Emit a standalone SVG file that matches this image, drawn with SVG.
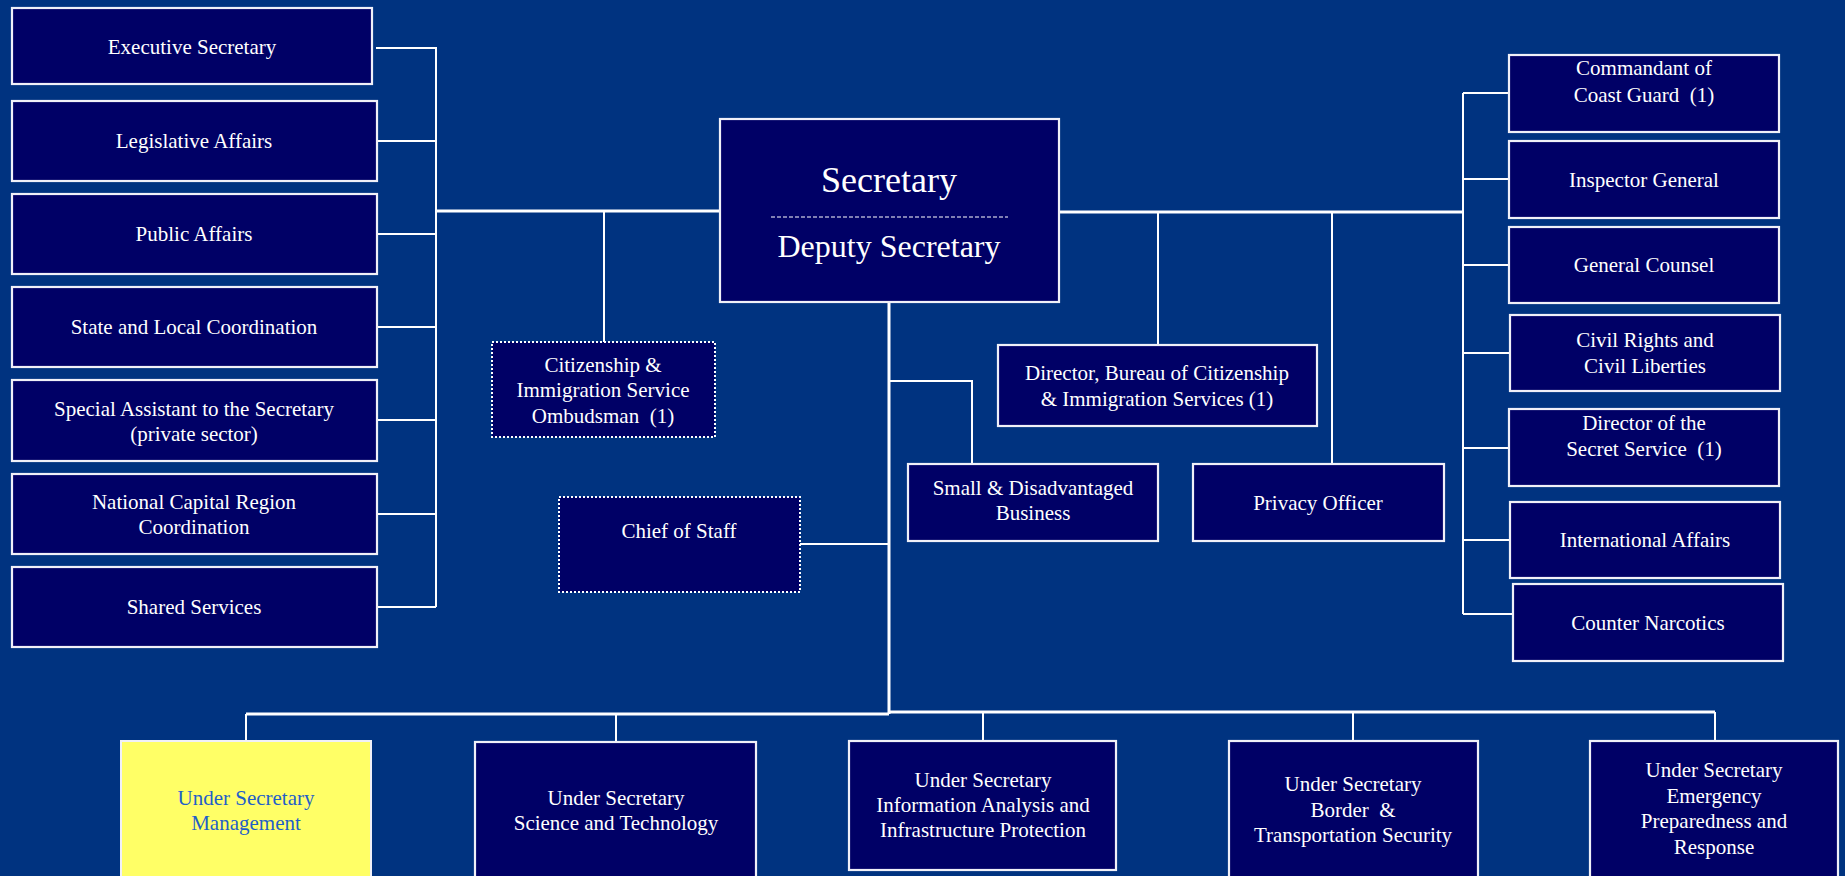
<svg xmlns="http://www.w3.org/2000/svg" width="1845" height="876" viewBox="0 0 1845 876" xml:space="preserve">
<style>
.bg{fill:#003380}
.box{fill:#000066;stroke:#f0f0f8;stroke-width:2.2}
.dot{fill:#000066;stroke:#ffffff;stroke-width:2;stroke-dasharray:2 2}
.hl{fill:#ffff66;stroke:#f0f0f8;stroke-width:2}
text{font-family:"Liberation Serif","Times New Roman",serif;font-size:21px;fill:#ffffff;text-anchor:middle;white-space:pre}
.blue{fill:#1f5fc8}
.big{font-size:36px}
.mid{font-size:32px}
.ln{stroke:#ffffff;stroke-width:2;fill:none}
.thick{stroke:#ffffff;stroke-width:3;fill:none}
</style>
<rect class="bg" x="0" y="0" width="1845" height="876"/>
<g id="connectors">
<path class="thick" d="M437 211H720M1059 212H1463"/>
<path class="ln" d="M376 48H436V607M377 141H436M377 234H436M377 327H436M377 420H436M377 514H436M377 607H436"/>
<path class="ln" d="M1463 93V614M1463 93H1509M1463 179H1509M1463 265H1509M1463 353H1510M1463 448H1509M1463 540H1510M1463 614H1513"/>
<path class="ln" d="M604 212V342M1158 212V345M1332 212V464"/>
<path class="thick" d="M889 302V714"/>
<path class="ln" d="M800 544H889M889 381H972V464"/>
<path class="thick" d="M246 714H889M889 712H1715"/>
<path class="ln" d="M246 714V741M616 714V742M983 712V741M1353 712V741M1715 712V741"/>
</g>
<g id="exec"><rect class="box" x="12" y="8" width="360" height="76"/><text x="192" y="54">Executive Secretary</text></g>
<g id="legis"><rect class="box" x="12" y="101" width="365" height="80"/><text x="194" y="148">Legislative Affairs</text></g>
<g id="public"><rect class="box" x="12" y="194" width="365" height="80"/><text x="194" y="241">Public Affairs</text></g>
<g id="state"><rect class="box" x="12" y="287" width="365" height="80"/><text x="194" y="334">State and Local Coordination</text></g>
<g id="special"><rect class="box" x="12" y="380" width="365" height="81"/><text x="194" y="416">Special Assistant to the Secretary</text><text x="194" y="441">(private sector)</text></g>
<g id="ncr"><rect class="box" x="12" y="474" width="365" height="80"/><text x="194" y="509">National Capital Region</text><text x="194" y="534">Coordination</text></g>
<g id="shared"><rect class="box" x="12" y="567" width="365" height="80"/><text x="194" y="614">Shared Services</text></g>
<g id="secretary"><rect class="box" x="720" y="119" width="339" height="183"/><text class="big" x="889" y="192">Secretary</text><line x1="771" y1="217" x2="1008" y2="217" stroke="#ffffff" stroke-width="1" stroke-dasharray="4 2"/><text class="mid" x="889" y="257">Deputy Secretary</text></g>
<g id="ombudsman"><rect class="dot" x="492" y="342" width="223" height="95"/><text x="603" y="372">Citizenship &amp;</text><text x="603" y="397">Immigration Service</text><text x="603" y="423">Ombudsman  (1)</text></g>
<g id="chief"><rect class="dot" x="559" y="497" width="241" height="95"/><text x="679" y="538">Chief of Staff</text></g>
<g id="small"><rect class="box" x="908" y="464" width="250" height="77"/><text x="1033" y="495">Small &amp; Disadvantaged</text><text x="1033" y="520">Business</text></g>
<g id="bureau"><rect class="box" x="998" y="345" width="319" height="81"/><text x="1157" y="380">Director, Bureau of Citizenship</text><text x="1157" y="406">&amp; Immigration Services (1)</text></g>
<g id="privacy"><rect class="box" x="1193" y="464" width="251" height="77"/><text x="1318" y="510">Privacy Officer</text></g>
<g id="coastguard"><rect class="box" x="1509" y="55" width="270" height="77"/><text x="1644" y="75">Commandant of</text><text x="1644" y="102">Coast Guard  (1)</text></g>
<g id="ig"><rect class="box" x="1509" y="141" width="270" height="77"/><text x="1644" y="187">Inspector General</text></g>
<g id="gc"><rect class="box" x="1509" y="227" width="270" height="76"/><text x="1644" y="272">General Counsel</text></g>
<g id="civil"><rect class="box" x="1510" y="315" width="270" height="76"/><text x="1645" y="347">Civil Rights and</text><text x="1645" y="373">Civil Liberties</text></g>
<g id="secret"><rect class="box" x="1509" y="409" width="270" height="77"/><text x="1644" y="430">Director of the</text><text x="1644" y="456">Secret Service  (1)</text></g>
<g id="intl"><rect class="box" x="1510" y="502" width="270" height="76"/><text x="1645" y="547">International Affairs</text></g>
<g id="narco"><rect class="box" x="1513" y="584" width="270" height="77"/><text x="1648" y="630">Counter Narcotics</text></g>
<g id="mgmt"><rect class="hl" x="121" y="741" width="250" height="150"/><text class="blue" x="246" y="805">Under Secretary</text><text class="blue" x="246" y="830">Management</text></g>
<g id="st"><rect class="box" x="475" y="742" width="281" height="150"/><text x="616" y="805">Under Secretary</text><text x="616" y="830">Science and Technology</text></g>
<g id="iaip"><rect class="box" x="849" y="741" width="267" height="129"/><text x="983" y="787">Under Secretary</text><text x="983" y="812">Information Analysis and</text><text x="983" y="837">Infrastructure Protection</text></g>
<g id="bts"><rect class="box" x="1229" y="741" width="249" height="150"/><text x="1353" y="791">Under Secretary</text><text x="1353" y="817">Border  &amp;</text><text x="1353" y="842">Transportation Security</text></g>
<g id="epr"><rect class="box" x="1590" y="741" width="248" height="150"/><text x="1714" y="777">Under Secretary</text><text x="1714" y="803">Emergency</text><text x="1714" y="828">Preparedness and</text><text x="1714" y="854">Response</text></g>
</svg>
